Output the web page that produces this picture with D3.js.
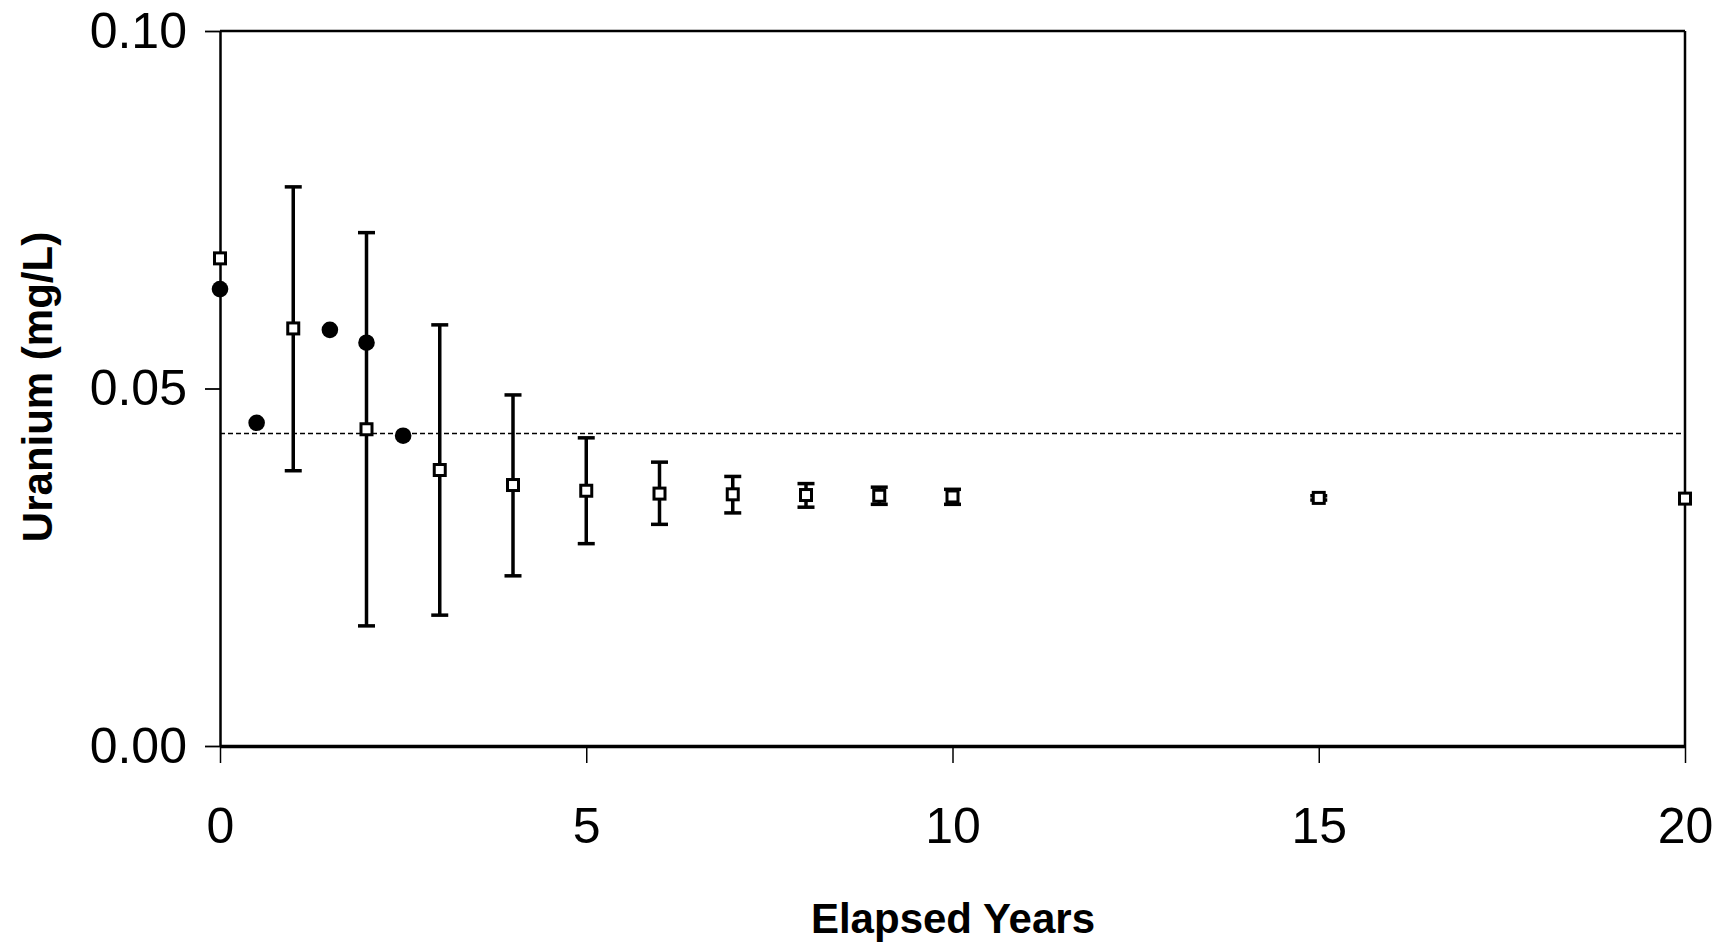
<!DOCTYPE html>
<html>
<head>
<meta charset="utf-8">
<script src="https://cdn.jsdelivr.net/npm/d3@7"></script>
<style>
  html, body { margin: 0; padding: 0; background: #fff; }
  svg { display: block; }
</style>
</head>
<body>
<svg id="chart" width="1733" height="947"></svg>
<script>
// ---- data ----
const meanYears  = [0, 1, 2, 3, 4, 5, 6, 7, 8, 9, 10, 15, 20];
const meanValues = [0.0682, 0.0584, 0.0443, 0.0386, 0.0365, 0.0357, 0.0353, 0.0352, 0.0351, 0.0350, 0.0349, 0.0347, 0.0346];
const errHigh    = [null, 0.0782, 0.0718, 0.0589, 0.0491, 0.0431, 0.0397, 0.0377, 0.0367, 0.0362, 0.0359, 0.0350, null];
const errLow     = [null, 0.0385, 0.0168, 0.0183, 0.0238, 0.0283, 0.0310, 0.0326, 0.0334, 0.0338, 0.0338, 0.0344, null];

const obsYears   = [0, 0.5, 1.5, 2, 2.5];
const obsValues  = [0.0639, 0.0452, 0.0582, 0.0564, 0.0434];

const refLevel   = 0.0437;

const xTicks = [0, 5, 10, 15, 20];
const yTicks = [0, 0.05, 0.10];
const xTitle = "Elapsed Years";
const yTitle = "Uranium (mg/L)";

// ---- layout ----
const L = 220, R = 1685, T = 31, B = 746;
const svg = d3.select("#chart");
const x = d3.scaleLinear().domain([0, 20]).range([L, R]);
const y = d3.scaleLinear().domain([0, 0.10]).range([B, T]);

const font = "'Liberation Sans', Arial, sans-serif";

// reference dashed line
svg.append("line")
  .attr("x1", x(0)).attr("x2", x(20))
  .attr("y1", y(refLevel)).attr("y2", y(refLevel))
  .attr("stroke", "#000").attr("stroke-width", 1.5)
  .attr("stroke-dasharray", "5,3");

// frame
svg.append("line").attr("x1", L).attr("x2", R).attr("y1", T).attr("y2", T)
  .attr("stroke", "#000").attr("stroke-width", 2.5);
svg.append("line").attr("x1", R).attr("x2", R).attr("y1", T).attr("y2", B)
  .attr("stroke", "#000").attr("stroke-width", 2.5);

// axes
const yAxis = d3.axisLeft(y).tickValues(yTicks).tickFormat(d3.format(".2f"))
  .tickSizeInner(15).tickSizeOuter(0).tickPadding(18);
const gy = svg.append("g").attr("transform", `translate(${L},0)`).call(yAxis);
gy.select(".domain").attr("stroke-width", 2.5);
gy.selectAll(".tick line").attr("stroke-width", 1.8);
gy.selectAll(".tick text").attr("font-family", font).attr("font-size", 50).attr("fill", "#000");

const xAxis = d3.axisBottom(x).tickValues(xTicks).tickFormat(d3.format("d"))
  .tickSizeInner(17).tickSizeOuter(0).tickPadding(44);
const gx = svg.append("g").attr("transform", `translate(0,${B})`).call(xAxis);
gx.select(".domain").attr("stroke-width", 3.5);
gx.selectAll(".tick line").attr("stroke-width", 1.5);
gx.selectAll(".tick text").attr("font-family", font).attr("font-size", 50).attr("fill", "#000");

// error bars
const capW = 8.5;
const eb = svg.append("g").attr("stroke", "#000").attr("stroke-width", 3.5);
meanYears.forEach((yr, i) => {
  if (errHigh[i] == null) return;
  const cx = x(yr);
  eb.append("line").attr("x1", cx).attr("x2", cx).attr("y1", y(errHigh[i])).attr("y2", y(errLow[i]));
  eb.append("line").attr("x1", cx - capW).attr("x2", cx + capW).attr("y1", y(errHigh[i])).attr("y2", y(errHigh[i]));
  eb.append("line").attr("x1", cx - capW).attr("x2", cx + capW).attr("y1", y(errLow[i])).attr("y2", y(errLow[i]));
});

// filled circles
svg.append("g").selectAll("circle").data(obsYears).join("circle")
  .attr("cx", d => x(d)).attr("cy", (d, i) => y(obsValues[i]))
  .attr("r", 8.3).attr("fill", "#000");

// open squares
const s = 11;
svg.append("g").selectAll("rect").data(meanYears).join("rect")
  .attr("x", d => x(d) - s / 2).attr("y", (d, i) => y(meanValues[i]) - s / 2)
  .attr("width", s).attr("height", s)
  .attr("fill", "#fff").attr("stroke", "#000").attr("stroke-width", 3);

// titles
svg.append("text")
  .attr("x", 953).attr("y", 933)
  .attr("text-anchor", "middle")
  .attr("font-family", font).attr("font-weight", "bold").attr("font-size", 42)
  .text(xTitle);

svg.append("text")
  .attr("transform", "translate(52,387) rotate(-90)")
  .attr("text-anchor", "middle")
  .attr("font-family", font).attr("font-weight", "bold").attr("font-size", 42)
  .text(yTitle);
</script>
</body>
</html>
